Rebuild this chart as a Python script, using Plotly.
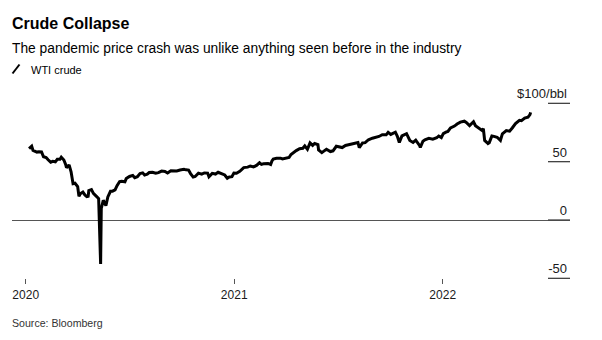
import plotly.graph_objects as go

# ---------------- data (WTI crude, $/bbl) ----------------
dates = [
    "2020-01-02", "2020-01-06", "2020-01-08", "2020-01-10", "2020-01-14", "2020-01-17", "2020-01-21",
    "2020-01-24", "2020-01-28", "2020-01-31", "2020-02-04", "2020-02-07", "2020-02-11", "2020-02-14",
    "2020-02-18", "2020-02-20", "2020-02-24", "2020-02-27", "2020-02-28", "2020-03-03", "2020-03-06",
    "2020-03-09", "2020-03-12", "2020-03-16", "2020-03-18", "2020-03-20", "2020-03-24", "2020-03-27",
    "2020-03-30", "2020-04-01", "2020-04-02", "2020-04-06", "2020-04-09", "2020-04-14", "2020-04-17",
    "2020-04-20", "2020-04-21", "2020-04-24", "2020-04-28", "2020-05-01", "2020-05-05", "2020-05-08",
    "2020-05-12", "2020-05-15", "2020-05-19", "2020-05-22", "2020-05-27", "2020-05-29", "2020-06-03",
    "2020-06-08", "2020-06-11", "2020-06-15", "2020-06-19", "2020-06-23", "2020-06-26", "2020-06-30",
    "2020-07-03", "2020-07-08", "2020-07-13", "2020-07-17", "2020-07-22", "2020-07-27", "2020-07-31",
    "2020-08-05", "2020-08-10", "2020-08-14", "2020-08-19", "2020-08-25", "2020-08-28", "2020-09-01",
    "2020-09-04", "2020-09-08", "2020-09-11", "2020-09-16", "2020-09-21", "2020-09-25", "2020-09-30",
    "2020-10-02", "2020-10-07", "2020-10-12", "2020-10-16", "2020-10-21", "2020-10-26", "2020-10-30",
    "2020-11-02", "2020-11-06", "2020-11-09", "2020-11-13", "2020-11-18", "2020-11-24", "2020-11-30",
    "2020-12-04", "2020-12-09", "2020-12-14", "2020-12-18", "2020-12-21", "2020-12-24", "2020-12-31",
    "2021-01-04", "2021-01-06", "2021-01-08", "2021-01-13", "2021-01-19", "2021-01-22", "2021-01-27",
    "2021-02-01", "2021-02-04", "2021-02-08", "2021-02-12", "2021-02-17", "2021-02-22", "2021-02-25",
    "2021-03-01", "2021-03-05", "2021-03-09", "2021-03-12", "2021-03-17", "2021-03-18", "2021-03-23",
    "2021-03-25", "2021-03-30", "2021-04-05", "2021-04-09", "2021-04-14", "2021-04-20", "2021-04-23",
    "2021-04-28", "2021-05-03", "2021-05-07", "2021-05-11", "2021-05-17", "2021-05-19", "2021-05-24",
    "2021-05-28", "2021-06-02", "2021-06-08", "2021-06-14", "2021-06-18", "2021-06-23", "2021-06-29",
    "2021-07-02", "2021-07-06", "2021-07-13", "2021-07-16", "2021-07-19", "2021-07-23", "2021-07-30",
    "2021-08-04", "2021-08-09", "2021-08-13", "2021-08-19", "2021-08-20", "2021-08-24", "2021-08-27",
    "2021-09-02", "2021-09-08", "2021-09-14", "2021-09-17", "2021-09-21", "2021-09-24", "2021-09-28",
    "2021-10-01", "2021-10-05", "2021-10-11", "2021-10-15", "2021-10-20", "2021-10-26", "2021-10-29",
    "2021-11-03", "2021-11-09", "2021-11-12", "2021-11-17", "2021-11-22", "2021-11-24", "2021-11-26",
    "2021-11-30", "2021-12-01", "2021-12-03", "2021-12-07", "2021-12-10", "2021-12-15", "2021-12-20",
    "2021-12-23", "2021-12-29", "2022-01-03", "2022-01-07", "2022-01-12", "2022-01-18", "2022-01-21",
    "2022-01-26", "2022-01-31", "2022-02-03", "2022-02-04",
]
wti = [
    61.2, 63.3, 59.6, 59.0, 58.2, 58.5, 58.3,
    54.2, 53.5, 51.6, 49.6, 50.3, 49.9, 52.1,
    52.1, 53.8, 51.4, 47.1, 44.8, 47.2, 41.3,
    31.1, 31.5, 28.7, 20.4, 22.4, 24.0, 21.5,
    20.1, 20.3, 25.3, 26.1, 22.8, 20.1, 18.3,
    -37.6, 10.0, 16.9, 12.3, 19.8, 24.6, 24.7,
    25.8, 29.4, 33.0, 33.3, 32.8, 35.5, 37.3,
    38.2, 36.3, 37.1, 39.8, 40.4, 38.5, 39.3,
    40.7, 40.9, 40.1, 40.6, 41.9, 41.6, 40.3,
    42.2, 41.9, 42.0, 42.9, 43.4, 43.0, 42.8,
    39.8, 36.8, 37.3, 40.2, 39.3, 40.3, 40.2,
    37.1, 40.0, 39.4, 40.9, 40.0, 38.6, 35.8,
    36.8, 37.1, 40.3, 40.1, 41.8, 44.9, 45.3,
    46.3, 45.5, 47.0, 49.1, 47.7, 48.2, 48.5,
    47.6, 50.6, 52.2, 52.9, 53.0, 52.3, 52.9,
    53.6, 56.2, 58.0, 59.5, 61.1, 61.5, 63.5,
    60.6, 66.1, 64.0, 65.6, 64.6, 60.0, 57.8,
    58.6, 60.6, 58.7, 59.3, 63.2, 62.4, 62.1,
    63.9, 64.5, 64.9, 65.3, 66.3, 62.1, 66.1,
    66.3, 68.8, 70.1, 70.9, 71.6, 73.1, 73.0,
    75.2, 73.4, 75.3, 71.8, 66.4, 72.1, 74.0,
    68.2, 66.5, 68.4, 63.7, 62.3, 67.5, 68.7,
    70.0, 69.3, 70.5, 72.0, 70.6, 74.0, 75.3,
    75.9, 78.9, 80.5, 82.3, 83.9, 84.7, 83.6,
    80.9, 84.2, 80.8, 78.4, 76.8, 78.4, 68.2,
    66.2, 65.6, 66.3, 72.1, 71.7, 70.9, 68.2,
    73.8, 76.6, 76.1, 78.9, 82.6, 85.4, 85.1,
    87.4, 88.2, 90.3, 92.3,
]
y_tick_vals = [-50, 0, 50, 100]
y_tick_text = ["-50", "0", "50", "$100/bbl"]
year_ticks = [2020, 2021, 2022]
year_labels = ["2020", "2021", "2022"]

# ---------------- layout geometry (pixels) ----------------
W, H = 602, 340
PL, PR = 12, 570            # horizontal extent of the plot area
MT, MB = 80, 290            # paper (margin box) top / bottom
YB = 281                    # bottom of the value axis
XTICK_Y = 278.3             # row where the year ticks start
ZERO_PX = 220.0             # pixel row of value 0
K = 58.33 / 50.0            # pixels per $ on the value axis
Y_RANGE = [-(YB - ZERO_PX) / K, (ZERO_PX - MT) / K]
TICK_LEFT = 548             # left end of the short value-axis tick rules


def paper(x, y):
    return (x - PL) / (PR - PL), (MB - y) / (MB - MT)


def value_row(v):
    """pixel row of a value on the value axis"""
    return ZERO_PX - v * K


FONT = "Liberation Sans, Arial, sans-serif"

fig = go.Figure()
fig.add_trace(go.Scatter(
    x=dates, y=wti, mode="lines", name="WTI crude",
    line=dict(color="#000000", width=3), showlegend=False,
))
# carrier for the year-tick axis
fig.add_trace(go.Scatter(
    x=[year_ticks[0], year_ticks[-1]], y=[None, None], mode="lines",
    xaxis="x2", yaxis="y", showlegend=False, hoverinfo="skip",
))

fig.update_layout(
    width=W, height=H,
    margin=dict(l=PL, r=W - PR, t=MT, b=H - MB, pad=0),
    paper_bgcolor="white", plot_bgcolor="white",
    font=dict(family=FONT, color="#1a1a1a", size=13),
    xaxis=dict(
        type="date", range=["2019-12-07", "2022-04-05"], anchor="y",
        showticklabels=False, ticks="", showgrid=False, zeroline=False, showline=False,
    ),
    xaxis2=dict(
        overlaying="x", anchor="free", position=paper(0, XTICK_Y)[1], side="bottom",
        range=[2019.9343, 2022.6105],
        tickvals=year_ticks, ticktext=year_labels,
        ticks="outside", ticklen=5, tickwidth=1, tickcolor="#555555",
        showgrid=False, zeroline=False, showline=False,
        tickfont=dict(family=FONT, size=12, color="#1a1a1a"),
    ),
    yaxis=dict(
        domain=[paper(0, YB)[1], 1],
        range=Y_RANGE, side="right",
        tickvals=y_tick_vals, ticktext=y_tick_text,
        ticks="inside", ticklen=22, tickwidth=1, tickcolor="rgba(0,0,0,0)",
        ticklabelposition="inside top",
        showgrid=False, showline=False,
        zeroline=True, zerolinecolor="#555555", zerolinewidth=1,
        tickfont=dict(family=FONT, size=13, color="#1a1a1a"),
    ),
)

# short rules under the value labels
for v in y_tick_vals:
    yy = paper(0, value_row(v))[1]
    fig.add_shape(type="line", xref="paper", yref="paper",
                  x0=paper(TICK_LEFT, 0)[0], x1=1.0, y0=yy, y1=yy,
                  line=dict(color="#444444", width=1.3), layer="above")

anns = []
x0, y0 = paper(10, 23.5)
anns.append(dict(x=x0, y=y0, text="<b>Crude Collapse</b>", font=dict(size=16, color="#000000")))
x0, y0 = paper(10, 48.5)
anns.append(dict(x=x0, y=y0, text="The pandemic price crash was unlike anything seen before in the industry",
                 font=dict(size=13.8, color="#000000")))
x0, y0 = paper(29, 70)
anns.append(dict(x=x0, y=y0, text="WTI crude", font=dict(size=11, color="#000000")))
x0, y0 = paper(10, 323)
anns.append(dict(x=x0, y=y0, text="Source: Bloomberg", font=dict(size=10.6, color="#333333")))
for a in anns:
    a.update(xref="paper", yref="paper", xanchor="left", yanchor="middle", showarrow=False)
    a["font"]["family"] = FONT
fig.update_layout(annotations=anns)

# legend swatch: short diagonal stroke
sx0, sy0 = paper(12.5, 73.5)
sx1, sy1 = paper(19.5, 64.5)
fig.add_shape(type="line", xref="paper", yref="paper", x0=sx0, y0=sy0, x1=sx1, y1=sy1,
              line=dict(color="#000000", width=2))

fig.write_html("out.html")
